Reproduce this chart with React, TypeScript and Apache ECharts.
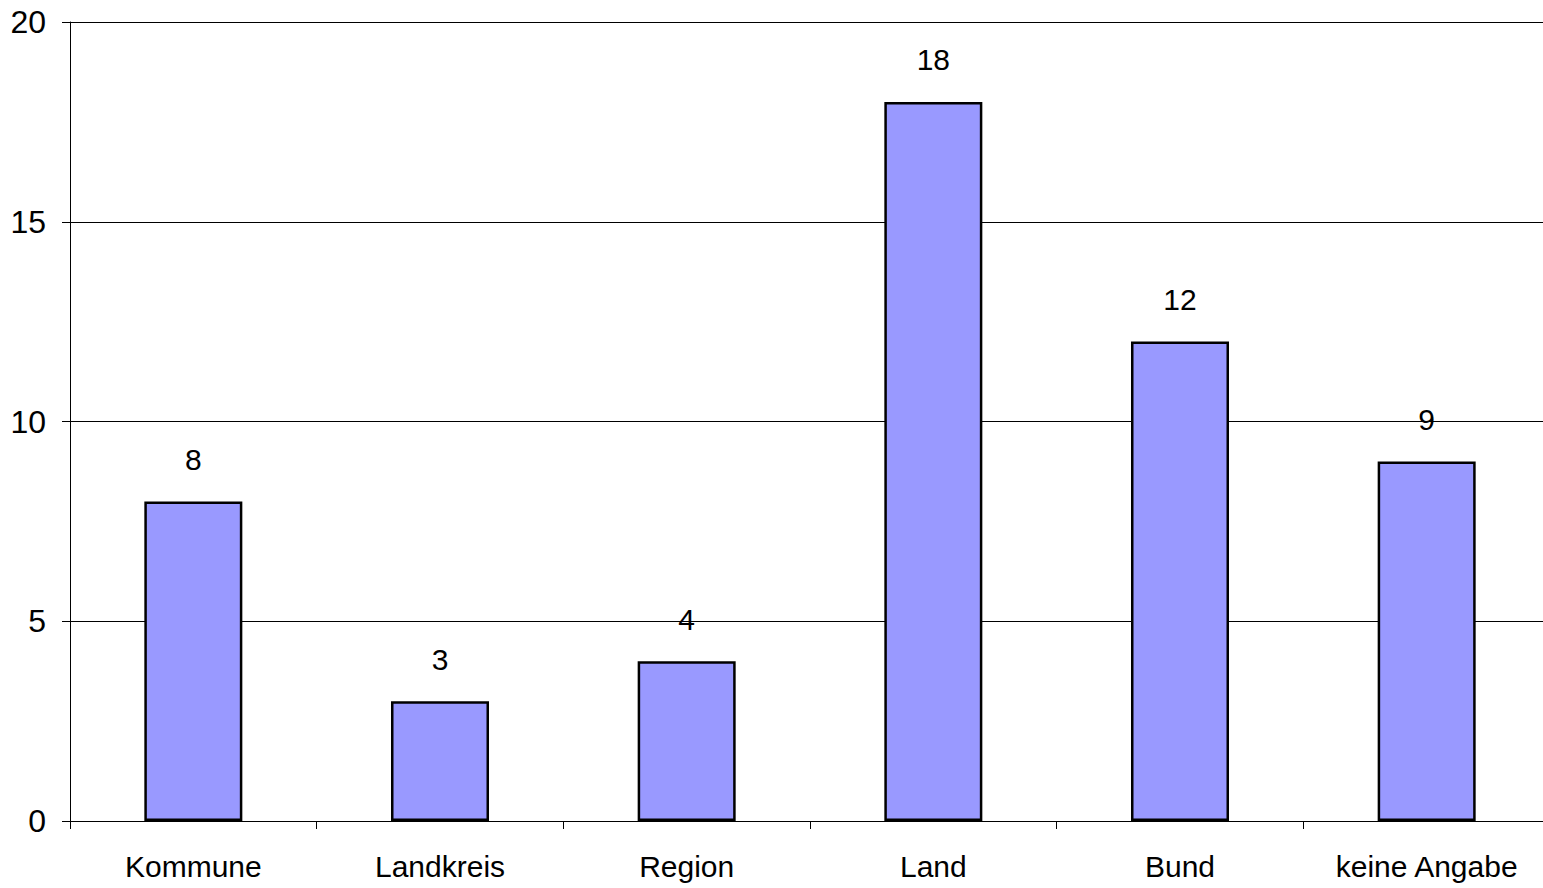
import React, { useEffect, useRef } from "react";
import * as echarts from "echarts";

const categories = ["Kommune", "Landkreis", "Region", "Land", "Bund", "keine Angabe"];
const counts = [8, 3, 4, 18, 12, 9];
const yMin = 0;
const yMax = 20;
const yStep = 5;

const FONT = "'Liberation Sans', Arial, sans-serif";

export default function App() {
  const ref = useRef<HTMLDivElement>(null);

  useEffect(() => {
    if (!ref.current) return;
    const chart = echarts.init(ref.current, undefined, { renderer: "svg" });
    chart.setOption({
      animation: false,
      backgroundColor: "#ffffff",
      grid: { left: 70, right: 0, top: 22, bottom: 67, containLabel: false },
      xAxis: {
        type: "category",
        data: categories,
        boundaryGap: true,
        axisLine: { show: true, lineStyle: { color: "#000", width: 1 } },
        axisTick: { show: true, length: 8, alignWithLabel: false, lineStyle: { color: "#000" } },
        axisLabel: {
          color: "#000",
          fontFamily: FONT,
          fontSize: 30,
          margin: 30,
          interval: 0,
        },
        splitLine: { show: false },
      },
      yAxis: {
        type: "value",
        min: yMin,
        max: yMax,
        interval: yStep,
        axisLine: { show: true, lineStyle: { color: "#000", width: 1 } },
        axisTick: { show: true, length: 8, lineStyle: { color: "#000" } },
        axisLabel: {
          color: "#000",
          fontFamily: FONT,
          fontSize: 32,
          margin: 24,
        },
        splitLine: { show: true, lineStyle: { color: "#000", width: 1 } },
      },
      series: [
        {
          type: "bar",
          data: counts,
          barWidth: 98,
          itemStyle: { color: "#9999FF", borderColor: "#000", borderWidth: 2.5 },
          label: {
            show: true,
            position: "top",
            distance: 27,
            color: "#000",
            fontFamily: FONT,
            fontSize: 30,
          },
        },
      ],
    });
    return () => chart.dispose();
  }, []);

  return (
    <div
      style={{
        position: "absolute",
        left: 0,
        top: 0,
        width: 1543,
        height: 888,
        overflow: "hidden",
        background: "#fff",
      }}
    >
      <div ref={ref} style={{ width: 1550, height: 888 }} />
    </div>
  );
}
